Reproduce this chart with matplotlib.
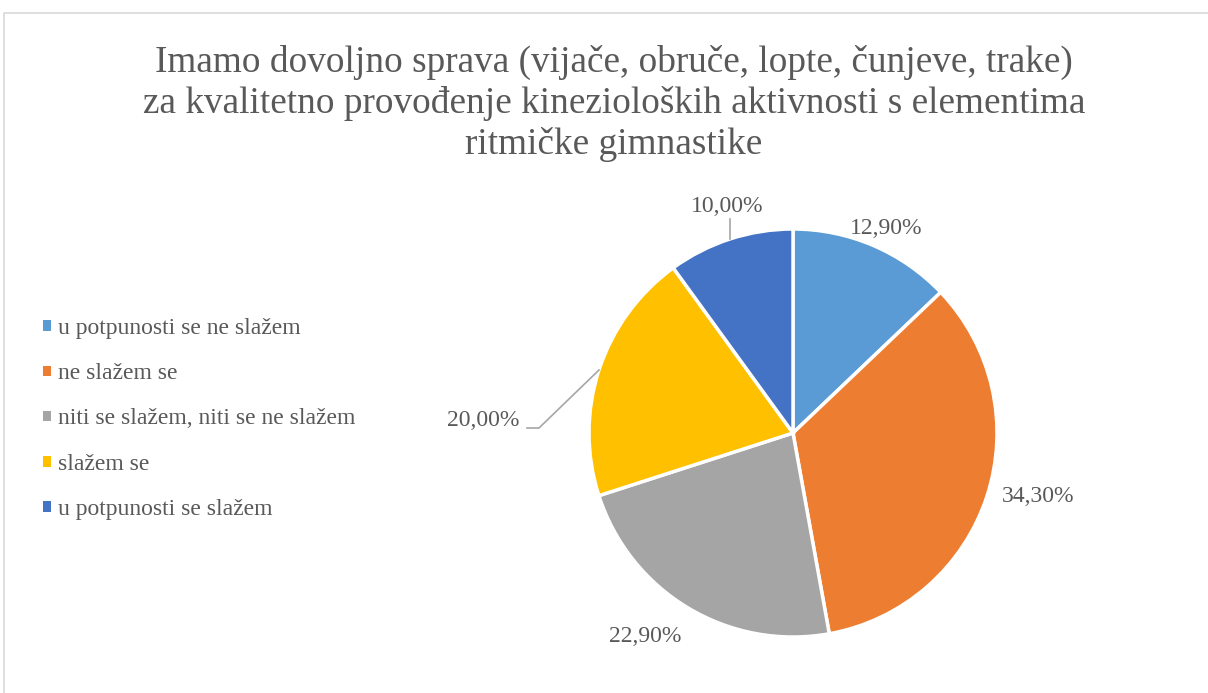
import matplotlib.pyplot as plt
import matplotlib.patches as mpatches

plt.rcParams['font.family'] = ['Liberation Serif', 'DejaVu Serif']

# Podaci
kategorije = ['u potpunosti se ne slažem', 'ne slažem se',
              'niti se slažem, niti se ne slažem', 'slažem se',
              'u potpunosti se slažem']
postoci = [12.9, 34.3, 22.9, 20.0, 10.0]
oznake = ['12,90%', '34,30%', '22,90%', '20,00%', '10,00%']
boje = ['#5B9BD5', '#ED7D31', '#A5A5A5', '#FFC000', '#4472C4']

naslov = ('Imamo dovoljno sprava (vijače, obruče, lopte, čunjeve, trake)\n'
          'za kvalitetno provođenje kinezioloških aktivnosti s elementima\n'
          'ritmičke gimnastike')

W, H = 1208, 693
cx, cy, r = 793, 433, 204
siva = '#595959'

fig = plt.figure(figsize=(W / 100, H / 100), dpi=100)

# okvir grafikona
okvir = mpatches.Rectangle((4 / W, -0.5), 1.5, 1.5 - 13 / H, transform=fig.transFigure,
                           fill=False, edgecolor='#d9d9d9', lw=1.2)
fig.patches.append(okvir)

ax = fig.add_axes([(cx - r) / W, (H - cy - r) / H, 2 * r / W, 2 * r / H])
wedges, _ = ax.pie(postoci, colors=boje, startangle=90, counterclock=False,
                   radius=1, wedgeprops=dict(edgecolor='white', linewidth=2.5))
ax.set_xlim(-1, 1)
ax.set_ylim(-1, 1)
ax.axis('off')

# položaji oznaka (piksel -> koordinate osi)
pos_oznaka = [(886, 228), (1038, 496), (645, 636), (483, 420), (727, 206)]
for (px, py), t in zip(pos_oznaka, oznake):
    ax.text((px - cx) / r, (cy - py) / r, t, ha='center', va='center',
            fontsize=17, color=siva, clip_on=False)

# linije vodilice
def pt(px, py):
    return (px - cx) / r, (cy - py) / r

l1 = [pt(730, 219), pt(730, 239)]
ax.plot([p[0] for p in l1], [p[1] for p in l1], color='#a6a6a6', lw=1.2, clip_on=False)
l2 = [pt(527, 428), pt(539, 428), pt(599, 370)]
ax.plot([p[0] for p in l2], [p[1] for p in l2], color='#a6a6a6', lw=1.2, clip_on=False)

fig.text(614 / W, 1 - 103.5 / H, naslov, ha='center', va='center', fontsize=26.8,
         color=siva, linespacing=1.22)

leg = fig.legend(wedges, kategorije, loc='center left',
                 bbox_to_anchor=(43 / W, 1 - 419 / H), frameon=False,
                 fontsize=17, handlelength=0.33, handleheight=0.33,
                 handletextpad=0.3, labelspacing=1.02, borderpad=0, borderaxespad=0)
for t in leg.get_texts():
    t.set_color(siva)
for h in leg.legend_handles:
    h.set_edgecolor('none')

plt.savefig('out.png', dpi=100)
